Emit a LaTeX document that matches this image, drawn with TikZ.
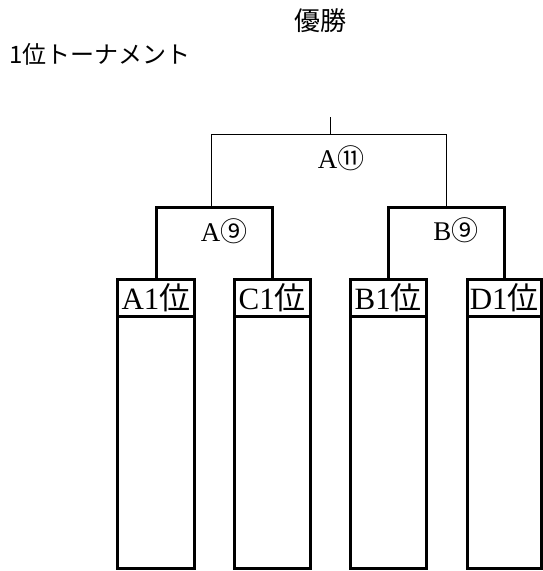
\documentclass[tikz,border=0pt]{standalone}
\usepackage{fontspec}
\setmainfont{Liberation Serif}
\newfontfamily\cjk{Noto Sans CJK JP}
\begin{document}
\begin{tikzpicture}[x=1pt,y=-1pt,
  head/.style={draw,line width=3pt,minimum height=37pt,inner sep=0pt,outer sep=0pt,anchor=north,font=\fontsize{31}{31}\selectfont},
  body/.style={draw,line width=3pt,minimum height=252.5pt,inner sep=0pt,outer sep=0pt,anchor=north},
  thickline/.style={line width=3pt,line join=miter},
  thinline/.style={line width=1pt},
  blabel/.style={font=\fontsize{27}{27}\selectfont,inner sep=0pt},
  title/.style={font=\cjk\fontsize{26}{26}\selectfont,inner sep=0pt}]
\useasboundingbox (0,0) rectangle (543,571);
\node[title] (win) at (320,21) {優勝};
\node[title,anchor=west,font=\cjk\fontsize{24}{24}\selectfont] (ttl) at (9,54) {1位トーナメント};
% boxes
\node[head,minimum width=77pt] (a1) at (156,279) {A1{\cjk 位}};
\node[head,minimum width=76.5pt] (c1) at (272.25,279) {C1{\cjk 位}};
\node[head,minimum width=76.5pt] (b1) at (388.25,279) {B1{\cjk 位}};
\node[head,minimum width=74.5pt] (d1) at (504.25,279) {D1{\cjk 位}};
\node[body,minimum width=77pt] (a1b) at (a1.south) {};
\node[body,minimum width=76.5pt] (c1b) at (c1.south) {};
\node[body,minimum width=76.5pt] (b1b) at (b1.south) {};
\node[body,minimum width=74.5pt] (d1b) at (d1.south) {};
% brackets
\coordinate (jA) at (211,207);
\coordinate (jB) at (446,207);
\coordinate (top) at (330,134.5);
\coordinate (tick) at (330,117);
\draw[thickline] (a1.north) |- (jA) -| (c1.north);
\draw[thickline] (b1.north) |- (jB) -| (d1.north);
\draw[thinline] (jA) |- (top) -| (jB);
\draw[thinline] (top) -- (tick);
% labels
\node[blabel] (l11) at (341,158) {A{\cjk ⑪}};
\node[blabel] (l9a) at (224,231) {A{\cjk ⑨}};
\node[blabel] (l9b) at (456,230) {B{\cjk ⑨}};
\end{tikzpicture}
\end{document}
